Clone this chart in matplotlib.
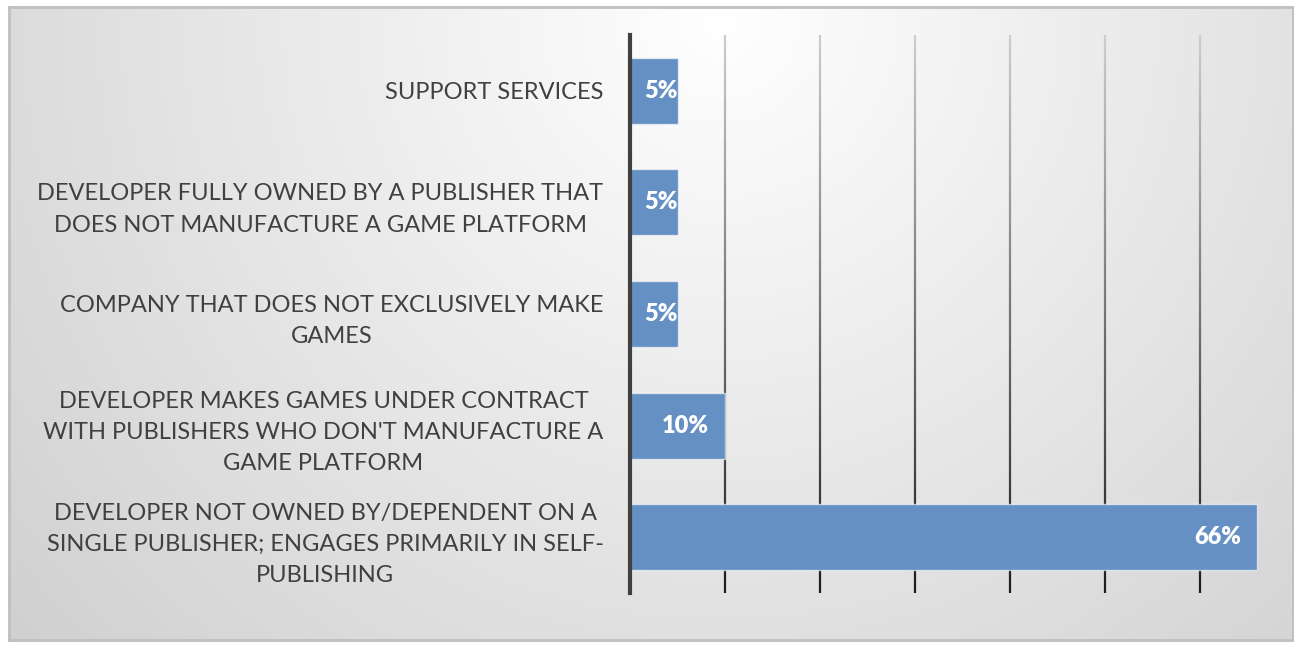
import numpy as np
import matplotlib
matplotlib.use("Agg")
import matplotlib.pyplot as plt
from matplotlib.collections import LineCollection

# categories listed top to bottom
categories = [
    "SUPPORT SERVICES",
    "DEVELOPER FULLY OWNED BY A PUBLISHER THAT\nDOES NOT MANUFACTURE A GAME PLATFORM",
    "COMPANY THAT DOES NOT EXCLUSIVELY MAKE\nGAMES",
    "DEVELOPER MAKES GAMES UNDER CONTRACT\nWITH PUBLISHERS WHO DON'T MANUFACTURE A\nGAME PLATFORM",
    "DEVELOPER NOT OWNED BY/DEPENDENT ON A\nSINGLE PUBLISHER; ENGAGES PRIMARILY IN SELF-\nPUBLISHING",
]
shares = [0.05, 0.05, 0.05, 0.10, 0.66]
share_labels = ["5%", "5%", "5%", "10%", "66%"]
grid_ticks = [0.1, 0.2, 0.3, 0.4, 0.5, 0.6]

BAR_COLOR = "#6590c4"
TEXT_COLOR = "#404040"
FONT = ["Lato", "DejaVu Sans"]

W, H = 1294, 647
fig = plt.figure(figsize=(W / 100, H / 100), dpi=100)
fig.patch.set_facecolor("white")

# chart area with a soft radial gray fill and a thin border
bg = fig.add_axes([9 / W, 1 - 640 / H, (1293 - 9) / W, (640 - 7) / H], zorder=0)
yy, xx = np.mgrid[7:640, 9:1293]
dist = np.hypot(xx - 720, yy - 20)
shade = np.clip(255 - 0.05 * dist, 200, 255) / 255
bg.imshow(np.dstack([shade] * 3), aspect="auto", extent=(0, 1, 0, 1), interpolation="bilinear")
bg.set_xticks([])
bg.set_yticks([])
for s in bg.spines.values():
    s.set_color("#bfbfbf")
    s.set_linewidth(2)

ax = fig.add_axes([630 / W, 1 - 593 / H, 665 / W, (593 - 35) / H], zorder=1)
ax.patch.set_alpha(0)
ax.set_xlim(0, 0.7)
ax.set_ylim(-0.5, len(categories) - 0.5)
ax.invert_yaxis()

y = np.arange(len(categories))
bars = ax.barh(y, shares, height=0.59, color=BAR_COLOR, edgecolor=(1, 1, 1, 0.6),
               linewidth=1, zorder=3)

# vertical gridlines fading from light gray at the top to near black at the bottom
y0, y1 = ax.get_ylim()
steps = np.linspace(y1, y0, 60)
segs, cols = [], []
for gx in grid_ticks:
    for a, b in zip(steps[:-1], steps[1:]):
        segs.append([(gx, a), (gx, b)])
        t = (a - y1) / (y0 - y1)
        g = 0.8 * (1 - t) + 0.1 * t
        cols.append((g, g, g))
ax.add_collection(LineCollection(segs, colors=cols, linewidths=1.6, zorder=2))

ax.set_yticks(y)
ax.set_yticklabels(categories, fontsize=17, color=TEXT_COLOR, family=FONT)
for lbl in ax.get_yticklabels():
    lbl.set_multialignment("center")
    lbl.set_linespacing(1.6)
ax.tick_params(axis="y", length=0, pad=19)
ax.set_xticks([])
for side in ["top", "right", "bottom"]:
    ax.spines[side].set_visible(False)
ax.spines["left"].set_color(TEXT_COLOR)
ax.spines["left"].set_linewidth(3)
ax.spines["left"].set_zorder(4)

# value labels at the inside end of each bar, clipped to the bar
for bar, v, txt, yi in zip(bars, shares, share_labels, y):
    if v < 0.08:
        ann = ax.annotate(txt, xy=(0, yi), xytext=(10, 0), textcoords="offset points",
                          ha="left", va="center")
    else:
        ann = ax.annotate(txt, xy=(v, yi), xytext=(-11.5, 0), textcoords="offset points",
                          ha="right", va="center")
    ann.set(color="white", fontsize=17, fontweight="heavy", family=FONT, zorder=5)
    ann.set_clip_path(bar)

fig.savefig("out.png", dpi=100)
